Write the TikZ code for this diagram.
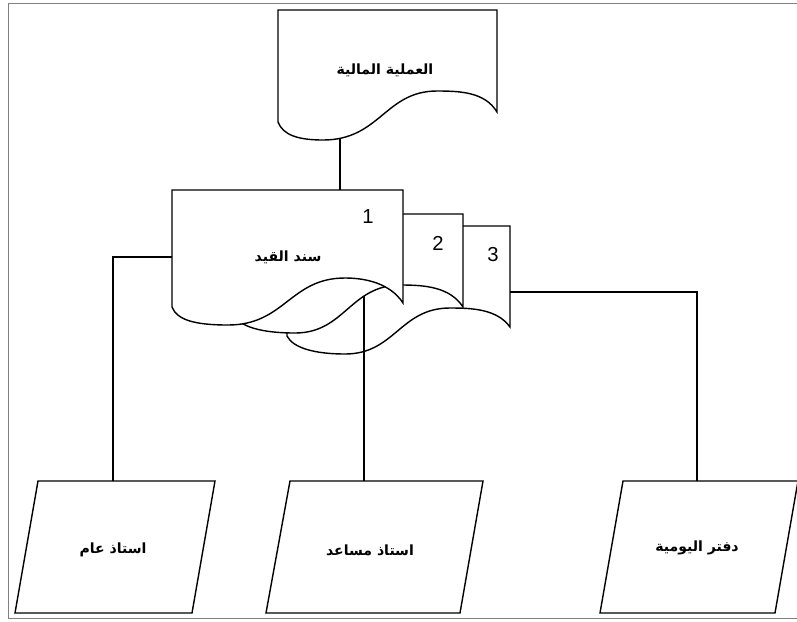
\documentclass[tikz,border=0pt]{standalone}
\usepackage{fontspec}
\setmainfont{Liberation Sans}
\newfontfamily\arabicfont[Script=Arabic]{DejaVu Sans}
\TeXXeTstate=1

\begin{document}
\begin{tikzpicture}[x=0.025cm, y=-0.025cm,
  docline/.style={draw=black, fill=white, line width=1pt},
  link/.style={draw=black, line width=1pt},
  artext/.style={font=\arabicfont\bfseries},
  numtext/.style={font=\Large}]
\useasboundingbox (0,0) rectangle (797,621);

% frame
\draw[gray, line width=0.6pt] (797,3) -- (8,3) -- (8,618) -- (797,618);

% source document
\draw[docline] (278,10) -- (497,10) -- (497,112)
  .. controls (485,92) and (460,91) .. (437,91)
  .. controls (385,91) and (380,140) .. (323,140)
  .. controls (298,140) and (283,135) .. (278,122) -- cycle;
\node[artext] (amaliya) at (385,70) {\beginR العملية المالية\endR};
\coordinate (amaliya out) at (340,139);

% copies of the voucher, back to front
\draw[docline] (287,226) -- (510,226) -- (510,327)
  .. controls (497,309) and (472,308) .. (450,308)
  .. controls (400,308) and (395,354) .. (345,354)
  .. controls (315,354) and (293,348) .. (287,336) -- cycle;
\node[numtext] (copy3) at (493,255) {3};
\coordinate (copy3 out) at (510,292);

\coordinate (copy2 out) at (364,285);
\coordinate (sub in) at (364,481);
\draw[link] (copy2 out) -- (sub in);

\draw[docline] (232,214) -- (463,214) -- (463,307)
  .. controls (450,287) and (425,285) .. (401,285)
  .. controls (350,285) and (345,333) .. (295,333)
  .. controls (262,333) and (240,327) .. (232,314) -- cycle;
\node[numtext] (copy2) at (438,243) {2};

\draw[docline] (172,190) -- (403,190) -- (403,303)
  .. controls (390,283) and (365,278) .. (345,278)
  .. controls (290,278) and (285,325) .. (228,325)
  .. controls (195,325) and (177,320) .. (172,307) -- cycle;
\node[numtext] (copy1) at (368,217) {1};
\node[artext] (sanad) at (288,257) {\beginR سند القيد\endR};
\coordinate (sanad top) at (340,190);
\coordinate (sanad left) at (172,257);

% ledgers
\draw[docline] (38,481) -- (215,481) -- (192,613) -- (15,613) -- cycle;
\node[artext] (general) at (113,550) {\beginR استاذ عام\endR};
\coordinate (general in) at (113,481);

\draw[docline] (290,481) -- (483,481) -- (460,613) -- (266,613) -- cycle;
\node[artext] (sub) at (370,550) {\beginR استاذ مساعد\endR};

\draw[docline] (623,481) -- (798,481) -- (775,613) -- (600,613) -- cycle;
\node[artext] (journal) at (697,548) {\beginR دفتر اليومية\endR};
\coordinate (journal in) at (697,481);

% connectors
\draw[link] (amaliya out) -- (sanad top);
\draw[link] (sanad left) -| (general in);
\draw[link] (copy3 out) -| (journal in);
\end{tikzpicture}
\end{document}
